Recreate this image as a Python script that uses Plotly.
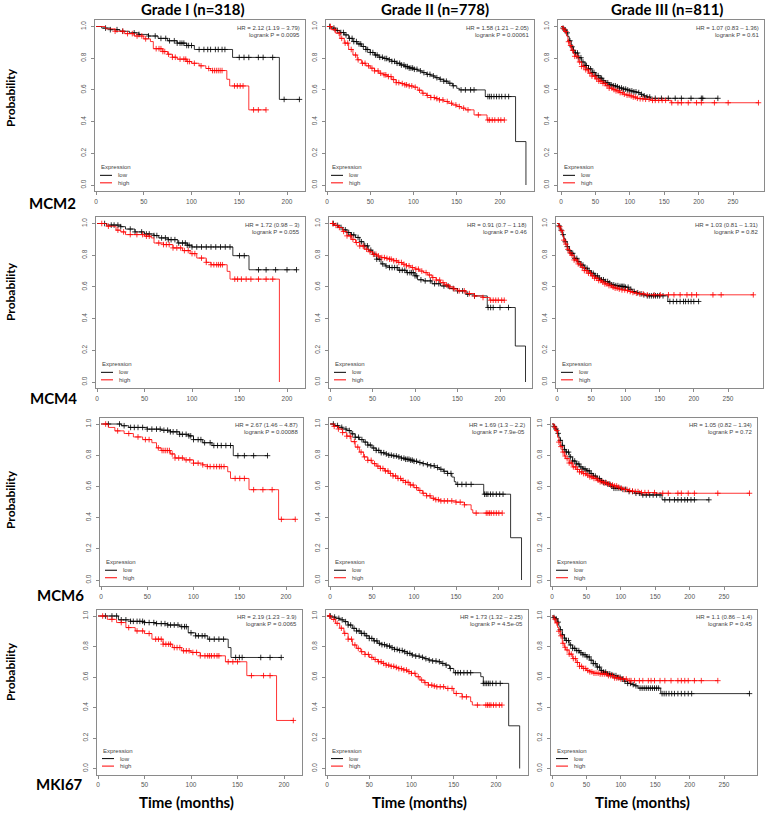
import plotly.graph_objects as go

W, H = 768, 813

# ---------------- text ----------------
GRADES = ["Grade I (n=318)", "Grade II (n=778)", "Grade III (n=811)"]
GENES = ["MCM2", "MCM4", "MCM6", "MKI67"]
HR_TEXT = [
    ["HR = 2.12 (1.19 – 3.79)", "HR = 1.58 (1.21 – 2.05)", "HR = 1.07 (0.83 – 1.36)"],
    ["HR = 1.72 (0.98 – 3)", "HR = 0.91 (0.7 – 1.18)", "HR = 1.03 (0.81 – 1.31)"],
    ["HR = 2.67 (1.46 – 4.87)", "HR = 1.69 (1.3 – 2.2)", "HR = 1.05 (0.82 – 1.34)"],
    ["HR = 2.19 (1.23 – 3.9)", "HR = 1.73 (1.32 – 2.25)", "HR = 1.1 (0.86 – 1.4)"],
]
P_TEXT = [
    ["logrank P = 0.0095", "logrank P = 0.00061", "logrank P = 0.61"],
    ["logrank P = 0.055", "logrank P = 0.46", "logrank P = 0.82"],
    ["logrank P = 0.00088", "logrank P = 7.9e-05", "logrank P = 0.72"],
    ["logrank P = 0.0065", "logrank P = 4.5e-05", "logrank P = 0.45"],
]
X_TICKS_G12 = [0, 50, 100, 150, 200]
X_TICKS_G3 = [0, 50, 100, 150, 200, 250]
Y_TICKS = [0.0, 0.2, 0.4, 0.6, 0.8, 1.0]
Y_TICK_TEXT = ["0.0", "0.2", "0.4", "0.6", "0.8", "1.0"]

# ---------------- data: (time, survival) steps, end time, censor times ----------------
# ===== Grade I =====
MCM2_G1_LOW = [(0, 1.0), (6, 0.99), (15, 0.98), (25, 0.97), (35, 0.96), (45, 0.95), (55, 0.94), (65, 0.925),
               (75, 0.91), (85, 0.895), (95, 0.88), (103, 0.855), (143, 0.805), (192, 0.54)]
MCM2_G1_LOW_END = 213
MCM2_G1_LOW_CENS = [10, 15, 22, 28, 40, 45, 55, 62, 68, 73, 77, 82, 85, 88, 90, 92, 95, 97, 100, 108, 113, 117,
                    120, 125, 128, 132, 135, 150, 155, 160, 170, 175, 185, 197, 213]
MCM2_G1_HIGH = [(0, 1.0), (10, 0.985), (20, 0.97), (30, 0.955), (40, 0.94), (50, 0.922), (57, 0.905), (60, 0.86),
                (70, 0.842), (75, 0.825), (80, 0.806), (85, 0.794), (95, 0.779), (100, 0.768), (108, 0.752),
                (115, 0.735), (120, 0.722), (137, 0.667), (140, 0.625), (160, 0.474)]
MCM2_G1_HIGH_END = 178
MCM2_G1_HIGH_CENS = [20, 28, 33, 38, 43, 48, 52, 63, 66, 68, 70, 72, 76, 80, 83, 88, 92, 94, 96, 98, 103, 110, 118,
                     122, 124, 126, 128, 130, 132, 145, 148, 151, 154, 165, 170, 178]

MCM4_G1_LOW = [(0, 1.0), (10, 0.99), (25, 0.98), (30, 0.965), (40, 0.947), (50, 0.934), (60, 0.924), (65, 0.909),
               (75, 0.898), (85, 0.877), (95, 0.863), (100, 0.852), (143, 0.797), (160, 0.708)]
MCM4_G1_LOW_END = 210
MCM4_G1_LOW_CENS = [8, 15, 18, 22, 25, 35, 40, 47, 52, 55, 60, 63, 68, 72, 75, 78, 82, 86, 90, 93, 95, 97, 100, 105,
                    110, 115, 120, 125, 130, 135, 140, 150, 155, 170, 178, 188, 200, 210]
MCM4_G1_HIGH = [(0, 1.0), (10, 0.983), (20, 0.958), (25, 0.947), (30, 0.93), (50, 0.92), (57, 0.909), (60, 0.877),
                (70, 0.867), (80, 0.846), (90, 0.829), (98, 0.81), (105, 0.782), (115, 0.755), (120, 0.74),
                (137, 0.698), (140, 0.649), (192, 0.0)]
MCM4_G1_HIGH_END = 192
MCM4_G1_HIGH_CENS = [5, 12, 22, 28, 35, 42, 48, 52, 55, 65, 70, 73, 76, 80, 84, 88, 92, 96, 100, 103, 110, 115, 120,
                     123, 126, 128, 130, 132, 145, 148, 152, 157, 162, 170, 178, 185]

MCM6_G1_LOW = [(0, 1.0), (22, 0.989), (30, 0.978), (50, 0.967), (65, 0.96), (75, 0.95), (85, 0.934), (95, 0.924),
               (100, 0.90), (110, 0.88), (120, 0.862), (143, 0.797)]
MCM6_G1_LOW_END = 180
MCM6_G1_LOW_CENS = [8, 20, 25, 32, 36, 40, 45, 50, 55, 60, 64, 68, 72, 75, 78, 82, 85, 88, 92, 95, 97, 100, 105, 108,
                    112, 118, 122, 126, 130, 135, 140, 148, 155, 165, 180]
MCM6_G1_HIGH = [(0, 1.0), (8, 0.978), (15, 0.956), (25, 0.939), (35, 0.917), (45, 0.90), (55, 0.88), (60, 0.847),
                (65, 0.83), (75, 0.808), (80, 0.782), (90, 0.77), (100, 0.749), (110, 0.738), (115, 0.727),
                (137, 0.694), (140, 0.651), (160, 0.579), (192, 0.389)]
MCM6_G1_HIGH_END = 210
MCM6_G1_HIGH_CENS = [5, 18, 30, 40, 48, 52, 62, 66, 68, 70, 72, 74, 77, 80, 84, 88, 92, 96, 100, 105, 110, 115, 118,
                     122, 125, 128, 130, 133, 145, 150, 155, 165, 175, 185, 195, 210]

MKI67_G1_LOW = [(0, 1.0), (22, 0.975), (35, 0.965), (50, 0.957), (62, 0.95), (75, 0.941), (88, 0.93), (97, 0.89),
                (105, 0.87), (118, 0.848), (140, 0.793), (143, 0.728)]
MKI67_G1_LOW_END = 197
MKI67_G1_LOW_CENS = [8, 15, 20, 25, 30, 35, 38, 42, 45, 48, 50, 55, 60, 63, 68, 72, 75, 78, 82, 86, 90, 93, 95, 100,
                     105, 108, 112, 115, 120, 125, 130, 135, 148, 152, 155, 175, 185, 197]
MKI67_G1_HIGH = [(0, 1.0), (10, 0.978), (20, 0.957), (30, 0.924), (40, 0.902), (50, 0.885), (58, 0.848), (70, 0.815),
                 (80, 0.793), (90, 0.772), (100, 0.761), (110, 0.739), (137, 0.70), (160, 0.609), (192, 0.315)]
MKI67_G1_HIGH_END = 210
MKI67_G1_HIGH_CENS = [5, 15, 25, 33, 42, 48, 55, 62, 65, 68, 70, 73, 76, 78, 82, 85, 88, 92, 95, 98, 102, 106, 110,
                      115, 118, 120, 122, 125, 128, 130, 140, 145, 150, 165, 178, 185, 210]

# ===== Grade II =====
MCM2_G2_LOW = [(0, 1.0), (5, 0.99), (10, 0.975), (15, 0.962), (20, 0.947), (25, 0.925), (30, 0.905), (35, 0.89),
               (40, 0.874), (45, 0.855), (50, 0.836), (55, 0.82), (60, 0.806), (65, 0.798), (70, 0.79), (75, 0.78),
               (80, 0.768), (85, 0.757), (90, 0.747), (95, 0.738), (100, 0.73), (105, 0.72), (110, 0.709),
               (115, 0.698), (120, 0.688), (125, 0.677), (130, 0.667), (135, 0.655), (140, 0.642), (145, 0.626),
               (150, 0.61), (153, 0.60), (183, 0.558), (218, 0.274), (230, 0.0)]
MCM2_G2_LOW_END = 230
MCM2_G2_LOW_CENS = [3, 8, 12, 16, 19, 22, 26, 29, 31, 34, 37, 39, 42, 45, 47, 50, 53, 56, 58, 61, 64, 67, 69, 72, 75,
                    78, 81, 84, 86, 89, 91, 93, 95, 97, 99, 101, 104, 108, 112, 116, 119, 123, 127, 131, 135, 138,
                    142, 146, 155, 160, 166, 170, 186, 188, 190, 193, 196, 199, 202, 206, 210]
MCM2_G2_HIGH = [(0, 1.0), (5, 0.98), (10, 0.958), (15, 0.925), (20, 0.895), (25, 0.855), (30, 0.82), (35, 0.79),
                (40, 0.768), (45, 0.752), (50, 0.737), (55, 0.72), (60, 0.705), (65, 0.695), (70, 0.684),
                (75, 0.665), (80, 0.646), (85, 0.64), (90, 0.632), (95, 0.625), (100, 0.617), (105, 0.598),
                (110, 0.579), (115, 0.565), (120, 0.552), (125, 0.545), (130, 0.537), (135, 0.527), (140, 0.516),
                (145, 0.505), (150, 0.495), (155, 0.485), (160, 0.474), (170, 0.442), (185, 0.41)]
MCM2_G2_HIGH_END = 205
MCM2_G2_HIGH_CENS = [4, 9, 14, 17, 21, 24, 28, 33, 36, 41, 44, 48, 52, 55, 59, 62, 66, 68, 71, 74, 77, 80, 83, 87,
                     90, 92, 95, 98, 102, 107, 111, 116, 120, 124, 127, 130, 134, 139, 144, 149, 153, 158, 163, 175,
                     186, 188, 191, 194, 198, 201, 205]

MCM4_G2_LOW = [(0, 1.0), (5, 0.988), (10, 0.975), (15, 0.96), (20, 0.943), (25, 0.928), (30, 0.912), (35, 0.885),
               (40, 0.859), (45, 0.832), (50, 0.806), (55, 0.775), (60, 0.745), (65, 0.732), (70, 0.722),
               (80, 0.705), (90, 0.69), (100, 0.67), (103, 0.645), (110, 0.638), (120, 0.62), (130, 0.606),
               (140, 0.59), (150, 0.575), (160, 0.554), (170, 0.543), (185, 0.47), (218, 0.227), (230, 0.0)]
MCM4_G2_LOW_END = 230
MCM4_G2_LOW_CENS = [4, 9, 13, 18, 22, 25, 28, 33, 37, 41, 44, 48, 52, 55, 58, 62, 66, 70, 73, 76, 79, 82, 85, 88, 91,
                    94, 96, 98, 100, 102, 107, 112, 118, 123, 128, 134, 139, 145, 150, 156, 162, 170, 186, 189, 192,
                    200, 210]
MCM4_G2_HIGH = [(0, 1.0), (5, 0.988), (10, 0.975), (15, 0.95), (20, 0.922), (25, 0.9), (30, 0.88), (35, 0.858),
                (40, 0.838), (45, 0.822), (50, 0.806), (55, 0.795), (60, 0.785), (65, 0.78), (70, 0.775),
                (75, 0.765), (80, 0.754), (85, 0.743), (90, 0.733), (95, 0.722), (100, 0.712), (105, 0.70),
                (110, 0.69), (115, 0.675), (120, 0.659), (125, 0.643), (130, 0.627), (135, 0.613), (140, 0.60),
                (145, 0.587), (150, 0.575), (160, 0.558), (170, 0.543), (180, 0.533), (188, 0.516)]
MCM4_G2_HIGH_END = 205
MCM4_G2_HIGH_CENS = [3, 7, 11, 16, 20, 24, 27, 31, 35, 39, 43, 47, 51, 54, 57, 61, 64, 67, 70, 72, 75, 78, 81, 84, 87,
                     90, 93, 97, 101, 104, 108, 113, 117, 121, 125, 129, 133, 137, 141, 146, 152, 158, 164, 170, 180,
                     189, 192, 195, 198, 202, 205]

MCM6_G2_LOW = [(0, 1.0), (5, 0.99), (10, 0.979), (15, 0.968), (20, 0.958), (25, 0.937), (30, 0.915), (35, 0.9),
               (40, 0.884), (45, 0.865), (50, 0.846), (55, 0.831), (60, 0.816), (65, 0.808), (70, 0.80),
               (75, 0.795), (80, 0.789), (85, 0.781), (90, 0.774), (95, 0.768), (100, 0.761), (105, 0.753),
               (110, 0.746), (115, 0.739), (120, 0.732), (125, 0.721), (130, 0.71), (135, 0.697), (140, 0.683),
               (145, 0.66), (148, 0.63), (150, 0.613), (183, 0.55), (215, 0.271), (228, 0.0)]
MCM6_G2_LOW_END = 228
MCM6_G2_LOW_CENS = [4, 9, 14, 19, 23, 27, 30, 34, 38, 42, 45, 48, 52, 55, 58, 61, 64, 67, 70, 73, 76, 79, 82, 85, 88,
                    90, 92, 94, 96, 98, 100, 103, 107, 111, 116, 120, 124, 128, 132, 136, 140, 144, 152, 157, 162,
                    168, 184, 186, 188, 191, 194, 198, 202, 206]
MCM6_G2_HIGH = [(0, 1.0), (5, 0.985), (10, 0.968), (15, 0.945), (20, 0.922), (25, 0.887), (30, 0.852), (35, 0.82),
                (40, 0.789), (45, 0.767), (50, 0.746), (55, 0.73), (60, 0.715), (65, 0.699), (70, 0.683),
                (75, 0.667), (80, 0.651), (85, 0.638), (90, 0.626), (95, 0.609), (100, 0.592), (105, 0.574),
                (110, 0.556), (115, 0.54), (120, 0.524), (125, 0.515), (130, 0.507), (150, 0.499), (160, 0.482),
                (168, 0.45), (170, 0.429)]
MCM6_G2_HIGH_END = 205
MCM6_G2_HIGH_CENS = [5, 10, 15, 20, 24, 29, 33, 37, 41, 45, 49, 53, 57, 60, 63, 66, 69, 72, 75, 78, 81, 84, 87, 90,
                     93, 96, 99, 103, 107, 111, 115, 119, 123, 126, 129, 132, 136, 140, 145, 150, 155, 160, 174, 186,
                     188, 190, 192, 195, 198, 201, 205]

MKI67_G2_LOW = [(0, 1.0), (5, 0.993), (10, 0.985), (15, 0.975), (20, 0.963), (25, 0.941), (30, 0.919), (35, 0.902),
                (40, 0.886), (45, 0.87), (50, 0.853), (55, 0.837), (60, 0.821), (65, 0.812), (70, 0.803),
                (75, 0.792), (80, 0.781), (85, 0.774), (90, 0.766), (95, 0.755), (100, 0.744), (105, 0.737),
                (110, 0.729), (115, 0.72), (120, 0.711), (125, 0.705), (130, 0.70), (135, 0.689), (140, 0.678),
                (145, 0.656), (150, 0.628), (182, 0.602), (185, 0.558), (215, 0.28), (228, 0.0)]
MKI67_G2_LOW_END = 228
MKI67_G2_LOW_CENS = [4, 9, 14, 18, 22, 25, 28, 32, 35, 38, 41, 44, 47, 50, 53, 56, 59, 62, 65, 68, 71, 74, 77, 80,
                     83, 86, 89, 92, 95, 98, 101, 105, 109, 113, 117, 121, 125, 129, 133, 137, 141, 146, 152, 155,
                     158, 162, 166, 170, 185, 187, 189, 191, 193, 196, 200, 205]
MKI67_G2_HIGH = [(0, 1.0), (5, 0.978), (10, 0.952), (15, 0.92), (20, 0.886), (25, 0.848), (30, 0.81), (35, 0.788),
                 (40, 0.766), (45, 0.748), (50, 0.729), (55, 0.715), (60, 0.70), (65, 0.689), (70, 0.678),
                 (75, 0.67), (80, 0.663), (85, 0.655), (90, 0.646), (95, 0.635), (100, 0.624), (105, 0.602),
                 (110, 0.58), (115, 0.563), (120, 0.547), (125, 0.541), (130, 0.536), (140, 0.525), (150, 0.492),
                 (160, 0.47), (170, 0.438), (172, 0.416)]
MKI67_G2_HIGH_END = 207
MKI67_G2_HIGH_CENS = [3, 8, 12, 17, 21, 25, 29, 33, 37, 41, 45, 49, 53, 57, 61, 64, 67, 70, 73, 76, 79, 82, 85, 88,
                      91, 94, 97, 100, 104, 108, 112, 116, 120, 124, 127, 130, 134, 138, 143, 148, 153, 160, 165, 178,
                      188, 190, 192, 194, 197, 200, 204, 207]

# ===== Grade III =====
MCM2_G3_LOW = [(0, 1.0), (3, 0.99), (5, 0.979), (8, 0.96), (10, 0.936), (12, 0.91), (15, 0.872), (18, 0.85),
               (20, 0.833), (25, 0.803), (30, 0.776), (35, 0.754), (40, 0.733), (45, 0.71), (50, 0.69), (55, 0.674),
               (60, 0.658), (65, 0.645), (70, 0.632), (75, 0.626), (80, 0.62), (85, 0.612), (90, 0.605),
               (95, 0.6), (100, 0.594), (105, 0.588), (110, 0.583), (115, 0.572), (120, 0.562), (125, 0.555),
               (130, 0.547)]
MCM2_G3_LOW_END = 228
MCM2_G3_LOW_CENS = [3, 6, 9, 13, 16, 18, 21, 24, 26, 29, 32, 35, 37, 40, 43, 46, 48, 51, 54, 57, 59, 62, 65, 68, 71,
                    73, 76, 79, 82, 85, 88, 91, 94, 97, 100, 103, 106, 109, 113, 117, 121, 125, 129, 137, 146, 156,
                    166, 175, 189, 204, 206, 228]
MCM2_G3_HIGH = [(0, 1.0), (3, 0.985), (5, 0.968), (8, 0.94), (10, 0.904), (12, 0.88), (15, 0.85), (18, 0.828),
                (20, 0.812), (25, 0.776), (30, 0.748), (35, 0.727), (40, 0.705), (45, 0.687), (50, 0.669),
                (55, 0.655), (60, 0.641), (65, 0.626), (70, 0.611), (75, 0.602), (80, 0.594), (85, 0.583),
                (90, 0.573), (95, 0.567), (100, 0.562), (105, 0.555), (110, 0.547), (115, 0.544), (120, 0.541),
                (130, 0.534), (160, 0.519)]
MCM2_G3_HIGH_END = 287
MCM2_G3_HIGH_CENS = [4, 7, 11, 14, 17, 20, 23, 27, 30, 33, 36, 39, 42, 45, 49, 52, 55, 58, 61, 64, 67, 70, 74, 77,
                     80, 83, 86, 89, 92, 96, 99, 102, 105, 108, 111, 115, 119, 123, 128, 133, 137, 142, 147, 152,
                     161, 170, 175, 185, 197, 204, 223, 243, 287]

MCM4_G3_LOW = [(0, 1.0), (3, 0.985), (5, 0.958), (8, 0.93), (10, 0.906), (12, 0.885), (15, 0.854), (18, 0.83),
               (20, 0.812), (25, 0.78), (30, 0.759), (35, 0.738), (40, 0.718), (45, 0.702), (50, 0.686), (55, 0.67),
               (60, 0.655), (65, 0.645), (70, 0.634), (75, 0.624), (80, 0.613), (85, 0.608), (90, 0.603),
               (100, 0.598), (105, 0.585), (110, 0.571), (115, 0.563), (120, 0.556), (125, 0.55), (130, 0.544),
               (162, 0.508)]
MCM4_G3_LOW_END = 207
MCM4_G3_LOW_CENS = [3, 6, 9, 12, 15, 18, 21, 23, 26, 29, 32, 35, 38, 41, 44, 47, 50, 53, 56, 59, 62, 65, 68, 71, 74,
                    77, 80, 83, 86, 89, 92, 94, 96, 98, 100, 104, 108, 113, 118, 123, 127, 132, 135, 138, 141, 144,
                    147, 150, 155, 165, 170, 175, 180, 185, 188, 192, 196, 200, 207]
MCM4_G3_HIGH = [(0, 1.0), (3, 0.98), (5, 0.954), (8, 0.92), (10, 0.895), (12, 0.87), (15, 0.837), (18, 0.815),
                (20, 0.80), (25, 0.77), (30, 0.745), (35, 0.724), (40, 0.703), (45, 0.686), (50, 0.669),
                (55, 0.655), (60, 0.64), (65, 0.63), (70, 0.619), (75, 0.608), (80, 0.598), (85, 0.592),
                (90, 0.586), (95, 0.581), (100, 0.577), (105, 0.571), (110, 0.565), (115, 0.56), (120, 0.556),
                (130, 0.55)]
MCM4_G3_HIGH_END = 287
MCM4_G3_HIGH_CENS = [4, 7, 10, 13, 16, 19, 22, 25, 28, 31, 34, 37, 40, 43, 46, 49, 52, 55, 58, 61, 64, 67, 70, 73,
                     76, 79, 82, 85, 88, 91, 95, 99, 103, 107, 111, 116, 121, 126, 132, 142, 151, 163, 171, 180, 190,
                     197, 204, 228, 240, 287]

MCM6_G3_LOW = [(0, 1.0), (3, 0.985), (5, 0.968), (8, 0.94), (10, 0.915), (12, 0.895), (15, 0.863), (18, 0.837),
               (20, 0.82), (25, 0.789), (30, 0.763), (35, 0.744), (40, 0.725), (45, 0.712), (50, 0.70), (55, 0.683),
               (60, 0.666), (65, 0.651), (70, 0.636), (75, 0.625), (80, 0.615), (85, 0.601), (90, 0.588),
               (100, 0.581), (110, 0.567), (120, 0.556), (130, 0.545), (160, 0.514)]
MCM6_G3_LOW_END = 228
MCM6_G3_LOW_CENS = [3, 6, 9, 12, 15, 18, 21, 24, 27, 30, 33, 36, 39, 42, 45, 48, 51, 54, 57, 60, 63, 66, 69, 72, 75,
                    78, 81, 84, 87, 90, 93, 96, 99, 103, 107, 112, 117, 122, 127, 132, 137, 142, 147, 152, 157, 164,
                    171, 178, 183, 188, 193, 197, 202, 207, 228]
MCM6_G3_HIGH = [(0, 1.0), (3, 0.98), (5, 0.958), (8, 0.915), (10, 0.884), (12, 0.855), (15, 0.82), (18, 0.795),
                (20, 0.778), (25, 0.75), (30, 0.725), (35, 0.709), (40, 0.693), (45, 0.682), (50, 0.672),
                (55, 0.661), (60, 0.651), (65, 0.64), (70, 0.63), (75, 0.622), (80, 0.615), (85, 0.609),
                (90, 0.603), (95, 0.595), (100, 0.588), (105, 0.58), (110, 0.573), (115, 0.57), (120, 0.567),
                (130, 0.56), (150, 0.556)]
MCM6_G3_HIGH_END = 287
MCM6_G3_HIGH_CENS = [4, 7, 10, 13, 16, 19, 22, 25, 28, 31, 34, 37, 40, 43, 46, 49, 52, 55, 58, 61, 64, 67, 70, 73,
                     76, 79, 82, 85, 88, 91, 94, 97, 101, 105, 109, 113, 117, 121, 125, 130, 135, 140, 149, 161, 169,
                     183, 188, 198, 207, 241, 287]

MKI67_G3_LOW = [(0, 1.0), (3, 0.99), (5, 0.982), (8, 0.96), (10, 0.933), (12, 0.91), (15, 0.877), (18, 0.855),
                (20, 0.839), (25, 0.81), (30, 0.788), (35, 0.773), (40, 0.759), (45, 0.746), (50, 0.732),
                (55, 0.71), (60, 0.688), (65, 0.665), (70, 0.643), (75, 0.632), (80, 0.621), (85, 0.615),
                (90, 0.609), (95, 0.598), (100, 0.587), (105, 0.572), (110, 0.558), (115, 0.55), (120, 0.542),
                (125, 0.527), (158, 0.491)]
MKI67_G3_LOW_END = 287
MKI67_G3_LOW_CENS = [3, 6, 9, 12, 15, 18, 21, 24, 27, 30, 33, 36, 39, 42, 45, 48, 51, 54, 57, 60, 63, 66, 69, 72,
                     75, 78, 81, 84, 87, 90, 93, 96, 99, 102, 106, 110, 114, 118, 122, 128, 131, 134, 137, 140, 143,
                     146, 149, 152, 155, 160, 163, 166, 170, 174, 178, 183, 188, 193, 198, 203, 287]
MKI67_G3_HIGH = [(0, 1.0), (3, 0.98), (5, 0.955), (8, 0.925), (10, 0.90), (12, 0.87), (15, 0.821), (18, 0.795),
                 (20, 0.777), (25, 0.75), (30, 0.721), (35, 0.695), (40, 0.67), (45, 0.656), (50, 0.643),
                 (55, 0.634), (60, 0.625), (70, 0.62), (80, 0.609), (90, 0.594), (100, 0.587), (110, 0.576)]
MKI67_G3_HIGH_END = 241
MKI67_G3_HIGH_CENS = [4, 7, 10, 13, 16, 19, 22, 25, 28, 31, 34, 37, 40, 43, 46, 49, 52, 55, 58, 61, 64, 67, 70, 73,
                      76, 79, 82, 85, 88, 91, 94, 97, 100, 104, 108, 113, 115, 120, 127, 132, 140, 144, 149, 157,
                      164, 173, 183, 188, 193, 198, 207, 217, 241]

PANELS = [
    [(MCM2_G1_LOW, MCM2_G1_LOW_END, MCM2_G1_LOW_CENS, MCM2_G1_HIGH, MCM2_G1_HIGH_END, MCM2_G1_HIGH_CENS),
     (MCM2_G2_LOW, MCM2_G2_LOW_END, MCM2_G2_LOW_CENS, MCM2_G2_HIGH, MCM2_G2_HIGH_END, MCM2_G2_HIGH_CENS),
     (MCM2_G3_LOW, MCM2_G3_LOW_END, MCM2_G3_LOW_CENS, MCM2_G3_HIGH, MCM2_G3_HIGH_END, MCM2_G3_HIGH_CENS)],
    [(MCM4_G1_LOW, MCM4_G1_LOW_END, MCM4_G1_LOW_CENS, MCM4_G1_HIGH, MCM4_G1_HIGH_END, MCM4_G1_HIGH_CENS),
     (MCM4_G2_LOW, MCM4_G2_LOW_END, MCM4_G2_LOW_CENS, MCM4_G2_HIGH, MCM4_G2_HIGH_END, MCM4_G2_HIGH_CENS),
     (MCM4_G3_LOW, MCM4_G3_LOW_END, MCM4_G3_LOW_CENS, MCM4_G3_HIGH, MCM4_G3_HIGH_END, MCM4_G3_HIGH_CENS)],
    [(MCM6_G1_LOW, MCM6_G1_LOW_END, MCM6_G1_LOW_CENS, MCM6_G1_HIGH, MCM6_G1_HIGH_END, MCM6_G1_HIGH_CENS),
     (MCM6_G2_LOW, MCM6_G2_LOW_END, MCM6_G2_LOW_CENS, MCM6_G2_HIGH, MCM6_G2_HIGH_END, MCM6_G2_HIGH_CENS),
     (MCM6_G3_LOW, MCM6_G3_LOW_END, MCM6_G3_LOW_CENS, MCM6_G3_HIGH, MCM6_G3_HIGH_END, MCM6_G3_HIGH_CENS)],
    [(MKI67_G1_LOW, MKI67_G1_LOW_END, MKI67_G1_LOW_CENS, MKI67_G1_HIGH, MKI67_G1_HIGH_END, MKI67_G1_HIGH_CENS),
     (MKI67_G2_LOW, MKI67_G2_LOW_END, MKI67_G2_LOW_CENS, MKI67_G2_HIGH, MKI67_G2_HIGH_END, MKI67_G2_HIGH_CENS),
     (MKI67_G3_LOW, MKI67_G3_LOW_END, MKI67_G3_LOW_CENS, MKI67_G3_HIGH, MKI67_G3_HIGH_END, MKI67_G3_HIGH_CENS)],
]

# ---------------- layout geometry (pixels) ----------------
# per panel: (pixel of t=0, pixels per month, box left, box right)
PANEL_X = [
    [(96, 0.955, 95, 305), (327, 0.865, 326, 534), (561, 0.688, 558, 764)],
    [(97, 0.95, 96, 305), (330, 0.85, 329, 532), (557, 0.684, 556, 763)],
    [(101, 0.925, 100, 303), (330, 0.84, 329, 530), (552, 0.688, 551, 757)],
    [(98, 0.93, 97, 302), (327, 0.845, 326, 528), (552, 0.688, 551, 757)],
]
# per row: pixel of y=1.0, pixel of y=0.0
ROW_Y = [(26.5, 185.0), (223.5, 382.0), (424.0, 580.0), (616.0, 768.5)]
TITLE_X = [193, 435, 667]
GENE_POS = [(52, 203), (53, 398), (60, 595), (59, 784)]
PROB_Y = [98, 292, 500, 672]
TIME_X = [186, 419, 642]

BLACK = "#000000"
RED = "#ff0000"
BOX = "#8a8a8a"
TICKC = "#555555"


def px(x):
    return x / W


def py(y):
    return 1 - y / H


def step_value(steps, t):
    v = steps[0][1]
    for tt, s in steps:
        if tt <= t:
            v = s
        else:
            break
    return v


fig = go.Figure()
layout = dict(width=W, height=H, margin=dict(l=0, r=0, t=0, b=0), paper_bgcolor="white",
              plot_bgcolor="white", showlegend=False)
annotations = []
shapes = []

for r in range(4):
    y1px, y0px = ROW_Y[r]
    span = y0px - y1px
    box_top = y1px - 0.04 * span
    box_bot = y0px + 0.04 * span
    for c in range(3):
        idx = r * 3 + c + 1
        xs = "x" if idx == 1 else f"x{idx}"
        ys = "y" if idx == 1 else f"y{idx}"
        zero, scale, bl, br = PANEL_X[r][c]
        low, low_end, low_c, high, high_end, high_c = PANELS[r][c]

        for steps, end, cens, col in ((low, low_end, low_c, BLACK), (high, high_end, high_c, RED)):
            tx = [t for t, _ in steps] + [end]
            sy = [s for _, s in steps] + [steps[-1][1]]
            fig.add_trace(go.Scatter(x=tx, y=sy, mode="lines", line=dict(color=col, width=0.8, shape="hv"),
                                     xaxis=xs, yaxis=ys, hoverinfo="skip"))
            cy = [step_value(steps, t) for t in cens]
            fig.add_trace(go.Scatter(x=cens, y=cy, mode="markers",
                                     marker=dict(symbol="cross-thin", size=4, color=col,
                                                 line=dict(width=0.8, color=col)),
                                     xaxis=xs, yaxis=ys, hoverinfo="skip"))

        xkey = "xaxis" if idx == 1 else f"xaxis{idx}"
        ykey = "yaxis" if idx == 1 else f"yaxis{idx}"
        layout[xkey] = dict(domain=[px(bl), px(br)], range=[(bl - zero) / scale, (br - zero) / scale],
                            anchor=ys, showgrid=False, zeroline=False, showline=True, mirror=True,
                            linecolor=BOX, linewidth=1, ticks="outside", ticklen=3, tickcolor=BOX,
                            tickvals=X_TICKS_G3 if c == 2 else X_TICKS_G12,
                            tickfont=dict(family="Liberation Sans", size=6.5, color=TICKC),
                            ticklabelstandoff=1)
        layout[ykey] = dict(domain=[py(box_bot), py(box_top)], range=[-0.04, 1.04], anchor=xs,
                            showgrid=False, zeroline=False, showline=True, mirror=True, linecolor=BOX,
                            linewidth=1, ticks="outside", ticklen=3, tickcolor=BOX, tickvals=Y_TICKS,
                            ticktext=Y_TICK_TEXT, tickangle=-90,
                            tickfont=dict(family="Liberation Sans", size=6.5, color=TICKC),
                            ticklabelstandoff=2)

        # HR / logrank text
        small = dict(family="Liberation Sans", size=6, color="#444444")
        annotations.append(dict(text=HR_TEXT[r][c], x=px(br - 3), y=py(box_top + 7.5), xref="paper",
                                yref="paper", xanchor="right", yanchor="middle", showarrow=False, font=small))
        annotations.append(dict(text=P_TEXT[r][c], x=px(br - 3), y=py(box_top + 14.5), xref="paper",
                                yref="paper", xanchor="right", yanchor="middle", showarrow=False, font=small))
        # legend
        annotations.append(dict(text="Expression", x=px(bl + 4), y=py(box_bot - 24), xref="paper",
                                yref="paper", xanchor="left", yanchor="middle", showarrow=False, font=small))
        for lab, col, off in (("low", BLACK, 16), ("high", RED, 8.5)):
            annotations.append(dict(text=lab, x=px(bl + 21), y=py(box_bot - off), xref="paper",
                                    yref="paper", xanchor="left", yanchor="middle", showarrow=False,
                                    font=small))
            shapes.append(dict(type="line", xref="paper", yref="paper", x0=px(bl + 5), x1=px(bl + 17),
                               y0=py(box_bot - off), y1=py(box_bot - off), line=dict(color=col, width=1)))

# titles, gene labels, axis labels
for c in range(3):
    annotations.append(dict(text=f"<b>{GRADES[c]}</b>", x=px(TITLE_X[c]), y=py(9), xref="paper", yref="paper",
                            xanchor="center", yanchor="middle", showarrow=False,
                            font=dict(family="Lato", size=15, color="black")))
    annotations.append(dict(text="<b>Time (months)</b>", x=px(TIME_X[c]), y=py(802), xref="paper",
                            yref="paper", xanchor="center", yanchor="middle", showarrow=False,
                            font=dict(family="Lato", size=15, color="black")))
for r in range(4):
    gx, gy = GENE_POS[r]
    annotations.append(dict(text=f"<b>{GENES[r]}</b>", x=px(gx), y=py(gy), xref="paper", yref="paper",
                            xanchor="center", yanchor="middle", showarrow=False,
                            font=dict(family="Lato", size=15, color="black")))
    annotations.append(dict(text="<b>Probability</b>", x=px(10), y=py(PROB_Y[r]), xref="paper", yref="paper",
                            xanchor="center", yanchor="middle", showarrow=False, textangle=-90,
                            font=dict(family="Lato", size=12, color="black")))

layout["annotations"] = annotations
layout["shapes"] = shapes
fig.update_layout(**layout)
fig.write_html("out.html", config={"displayModeBar": False},
               post_script="document.body.style.margin='0px';document.body.style.overflow='hidden';")
